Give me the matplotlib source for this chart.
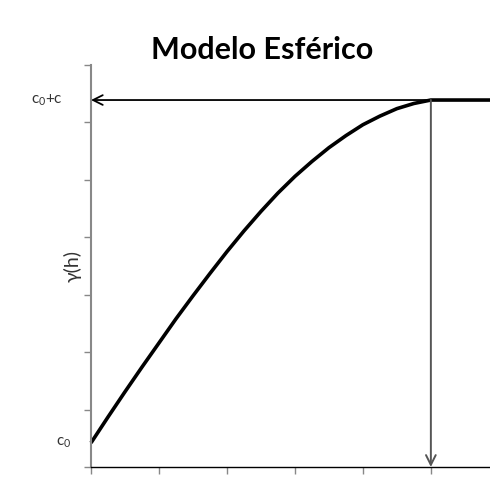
import numpy as np
import matplotlib.pyplot as plt

plt.rcParams['font.family'] = ['Lato', 'DejaVu Sans']
plt.rcParams['mathtext.fontset'] = 'custom'
plt.rcParams['mathtext.rm'] = 'Lato'
plt.rcParams['mathtext.it'] = 'Lato'

# valores (h, gamma)
h = [0.0, 0.25, 0.5, 0.75, 1.0, 1.25, 1.5, 1.75, 2.0, 2.25, 2.5, 2.75,
     3.0, 3.25, 3.5, 3.75, 4.0, 4.25, 4.5, 4.75, 5.0, 5.87]
gama = [0.42, 0.87, 1.31, 1.74, 2.16, 2.58, 2.98, 3.37, 3.75, 4.11, 4.45, 4.77,
        5.06, 5.32, 5.56, 5.77, 5.96, 6.11, 6.24, 6.33, 6.39, 6.39]
c0 = 0.42
c0_c = 6.39
alcance = 5.0
xmax = 5.87
ymax = 7

fig = plt.figure(figsize=(4.9, 4.79), dpi=100)
ax = fig.add_axes([91/490, 12/479, 399/490, 402/479])

ax.plot(h, gama, color='black', lw=2.6, solid_capstyle='butt', clip_on=False)

# setas
ax.annotate('', xy=(0, c0_c), xytext=(xmax, c0_c),
            arrowprops=dict(arrowstyle='->,head_length=0.7,head_width=0.35',
                            color='black', lw=1.3, shrinkA=0, shrinkB=0))
ax.annotate('', xy=(alcance, 0), xytext=(alcance, c0_c),
            arrowprops=dict(arrowstyle='->,head_length=0.7,head_width=0.35',
                            color='#555555', lw=1.4, shrinkA=0, shrinkB=0))

ax.set_xlim(0, xmax)
ax.set_ylim(0, ymax)
ax.set_xticks(np.arange(0, 6))
ax.set_yticks(np.arange(0, ymax + 1))
ax.set_xticklabels([])
ax.set_yticklabels([])
ax.tick_params(axis='both', direction='out', length=5, width=1, color='#888888')

for s in ['top', 'right']:
    ax.spines[s].set_visible(False)
ax.spines['left'].set_color('#888888')
ax.spines['left'].set_linewidth(1.5)
ax.spines['bottom'].set_color('black')
ax.spines['bottom'].set_linewidth(1.0)

tr = ax.get_yaxis_transform()
ax.text(-0.11, c0_c, r'c$_0$+c', transform=tr, ha='center', va='center',
        fontsize=11, color='#333333')
ax.text(-0.068, c0, r'c$_0$', transform=tr, ha='center', va='center',
        fontsize=11, color='#333333')

ax.text(-0.045, 0.5, u'\u03b3(h)', transform=ax.transAxes, rotation=90,
        ha='center', va='center', fontsize=14, color='#333333')

fig.text(262/490, 1 - 50/479, 'Modelo Esférico', ha='center', va='center',
         fontsize=22, fontweight='bold')

fig.savefig('out.png', dpi=100)
